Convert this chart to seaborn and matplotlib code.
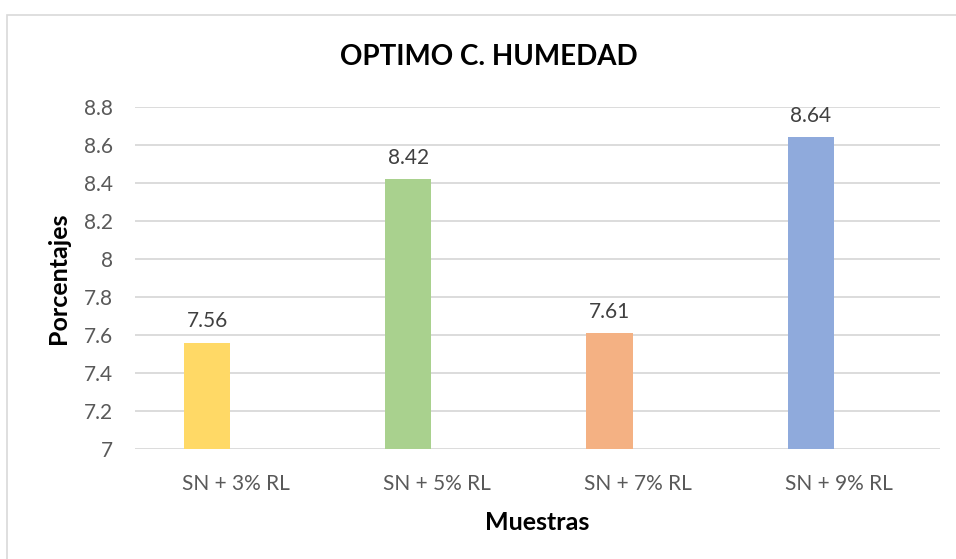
import matplotlib
matplotlib.use("Agg")
import matplotlib.pyplot as plt
import matplotlib.ticker as mticker
from matplotlib.patches import Rectangle
import seaborn as sns
import pandas as pd
import numpy as np

categorias = ["SN + 3% RL", "SN + 5% RL", "SN + 7% RL", "SN + 9% RL"]
valores = [7.56, 8.42, 7.61, 8.64]
colores = ["#FFD966", "#A9D18E", "#F4B183", "#8FAADC"]
etiquetas = ["7.56", "8.42", "7.61", "8.64"]
yticks = [7.0, 7.2, 7.4, 7.6, 7.8, 8.0, 8.2, 8.4, 8.6, 8.8]

df = pd.DataFrame({
    "Muestras": categorias + categorias,
    "Porcentajes": valores + [np.nan] * len(valores),
    "Serie": ["A"] * len(valores) + ["B"] * len(valores),
})

sns.set_style("white")
plt.rcParams["font.family"] = ["Lato", "DejaVu Sans"]

fig = plt.figure(figsize=(9.56, 5.59), dpi=100)
fig.patches.append(Rectangle((7 / 956, -0.1), 1.2, 1 - 15 / 559 + 0.1,
                             transform=fig.transFigure, fill=False,
                             edgecolor="#D9D9D9", linewidth=1.2, zorder=0))
ax = fig.add_axes([135 / 956, 1 - 449 / 559, 805 / 956, 342 / 559])

sns.barplot(data=df, x="Muestras", y="Porcentajes", hue="Serie",
            hue_order=["A", "B"], order=categorias, width=0.568, gap=0.19,
            palette=["#FFD966", "#FFFFFF"], legend=False, ax=ax,
            err_kws={"linewidth": 0}, zorder=3)

bars = [p for p in ax.patches][:len(valores)]
for p, c in zip(bars, colores):
    p.set_facecolor(c)
    p.set_edgecolor("none")

ax.bar_label(ax.containers[0], labels=etiquetas, padding=8, fontsize=15,
             color="#404040")

ax.set_ylim(7, 8.8)
ax.set_xlim(-0.5, 3.5)
ax.set_yticks(yticks)
ax.yaxis.set_major_formatter(mticker.FuncFormatter(lambda v, p: f"{v:g}"))
ax.grid(axis="y", color="#D9D9D9", linewidth=1.3, zorder=0)
ax.set_axisbelow(True)
for s in ax.spines.values():
    s.set_visible(False)
ax.tick_params(axis="both", length=0, labelsize=15, labelcolor="#595959")
ax.tick_params(axis="y", pad=16)
ax.tick_params(axis="x", pad=18)

ax.set_xlabel("Muestras", fontsize=18, fontweight="bold", color="black", labelpad=12)
ax.set_ylabel("Porcentajes", fontsize=18, fontweight="bold", color="black", labelpad=10)

fig.text(489 / 956, 1 - 57 / 559, "OPTIMO C. HUMEDAD", ha="center", va="center",
         fontsize=20, fontweight="bold", color="black")

fig.savefig("out.png", dpi=100)
